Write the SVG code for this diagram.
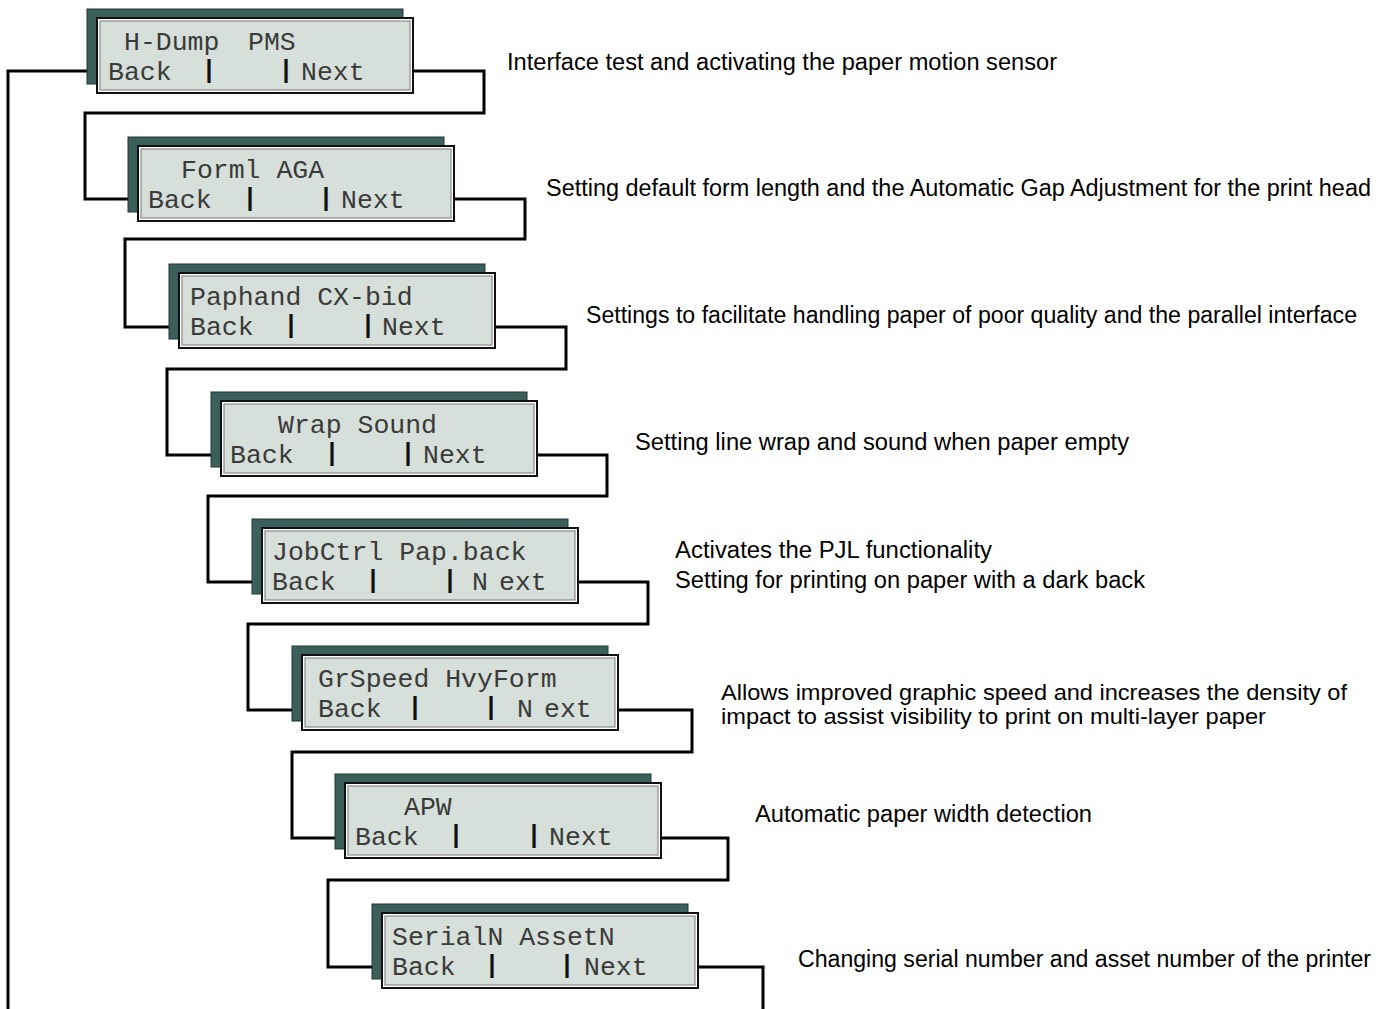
<svg xmlns="http://www.w3.org/2000/svg" width="1392" height="1009" viewBox="0 0 1392 1009">
<style>
.sh{fill:#3b605c;stroke:#203634;stroke-width:1}
.fo{fill:#ffffff;stroke:#111;stroke-width:2}
.fi{fill:#d6dfd9;stroke:#8a8a8a;stroke-width:1.2}
.lcd{font-family:"Liberation Mono","Courier New",monospace;font-size:26.5px;fill:#3a3a3a}
.bar{font-family:"Liberation Mono",monospace;font-size:25px;font-weight:bold;fill:#111;text-anchor:middle}
.d{font-family:"Liberation Sans",Arial,sans-serif;font-size:23.5px;fill:#000}
.d6{font-family:"Liberation Sans",Arial,sans-serif;font-size:22px;fill:#000}
.c{fill:none;stroke:#000;stroke-width:3;stroke-linejoin:miter}
</style>
<rect width="1392" height="1009" fill="#fff"/>
<g id="connectors">
<path class="c" d="M87 71 H8 V1009"/>
<path class="c" d="M413 71 H484 V113 H85 V199 H128"/>
<path class="c" d="M454 199 H525 V239 H125 V327 H169"/>
<path class="c" d="M495 327 H566 V369 H167 V455 H211"/>
<path class="c" d="M537 455 H607 V496 H208 V582 H252"/>
<path class="c" d="M578 582 H648 V624 H248 V710 H292"/>
<path class="c" d="M618 710 H692 V752 H292 V838 H335"/>
<path class="c" d="M661 838 H728 V880 H328 V967 H372"/>
<path class="c" d="M698 967 H763 V1009"/>
</g>
<g id="n1">
<rect class="sh" x="87" y="9" width="316" height="75"/>
<rect class="fo" x="97" y="18" width="316" height="75"/>
<rect class="fi" x="100" y="21" width="310" height="69"/>
<text class="lcd" y="50"><tspan x="124">H-Dump</tspan><tspan x="248">PMS</tspan></text>
<text class="lcd" x="108" y="80">Back</text>
<text class="bar" x="209" y="78">|</text><text class="bar" x="286" y="78">|</text>
<text class="lcd" x="301" y="80">Next</text>
</g>
<g id="n2">
<rect class="sh" x="128" y="137" width="316" height="75"/>
<rect class="fo" x="138" y="146" width="316" height="75"/>
<rect class="fi" x="141" y="149" width="310" height="69"/>
<text class="lcd" x="181" y="178">Forml AGA</text>
<text class="lcd" x="148" y="208">Back</text>
<text class="bar" x="250" y="206">|</text><text class="bar" x="326" y="206">|</text>
<text class="lcd" x="341" y="208">Next</text>
</g>
<g id="n3">
<rect class="sh" x="169" y="264" width="316" height="75"/>
<rect class="fo" x="179" y="273" width="316" height="75"/>
<rect class="fi" x="182" y="276" width="310" height="69"/>
<text class="lcd" x="190" y="305">Paphand CX-bid</text>
<text class="lcd" x="190" y="335">Back</text>
<text class="bar" x="291" y="333">|</text><text class="bar" x="368" y="333">|</text>
<text class="lcd" x="382" y="335">Next</text>
</g>
<g id="n4">
<rect class="sh" x="211" y="392" width="316" height="75"/>
<rect class="fo" x="221" y="401" width="316" height="75"/>
<rect class="fi" x="224" y="404" width="310" height="69"/>
<text class="lcd" x="278" y="433">Wrap Sound</text>
<text class="lcd" x="230" y="463">Back</text>
<text class="bar" x="332" y="461">|</text><text class="bar" x="408" y="461">|</text>
<text class="lcd" x="423" y="463">Next</text>
</g>
<g id="n5">
<rect class="sh" x="252" y="519" width="316" height="75"/>
<rect class="fo" x="262" y="528" width="316" height="75"/>
<rect class="fi" x="265" y="531" width="310" height="69"/>
<text class="lcd" x="272" y="560">JobCtrl Pap.back</text>
<text class="lcd" x="272" y="590">Back</text>
<text class="bar" x="373" y="588">|</text><text class="bar" x="450" y="588">|</text>
<text class="lcd" y="590"><tspan x="472">N</tspan><tspan x="499">ext</tspan></text>
</g>
<g id="n6">
<rect class="sh" x="292" y="646" width="316" height="75"/>
<rect class="fo" x="302" y="655" width="316" height="75"/>
<rect class="fi" x="305" y="658" width="310" height="69"/>
<text class="lcd" x="318" y="687">GrSpeed HvyForm</text>
<text class="lcd" x="318" y="717">Back</text>
<text class="bar" x="415" y="715">|</text><text class="bar" x="491" y="715">|</text>
<text class="lcd" y="717"><tspan x="517">N</tspan><tspan x="544">ext</tspan></text>
</g>
<g id="n7">
<rect class="sh" x="335" y="774" width="316" height="75"/>
<rect class="fo" x="345" y="783" width="316" height="75"/>
<rect class="fi" x="348" y="786" width="310" height="69"/>
<text class="lcd" x="404" y="815">APW</text>
<text class="lcd" x="355" y="845">Back</text>
<text class="bar" x="456" y="843">|</text><text class="bar" x="534" y="843">|</text>
<text class="lcd" x="549" y="845">Next</text>
</g>
<g id="n8">
<rect class="sh" x="372" y="904" width="316" height="75"/>
<rect class="fo" x="382" y="913" width="316" height="75"/>
<rect class="fi" x="385" y="916" width="310" height="69"/>
<text class="lcd" x="392" y="945">SerialN AssetN</text>
<text class="lcd" x="392" y="975">Back</text>
<text class="bar" x="492" y="973">|</text><text class="bar" x="567" y="973">|</text>
<text class="lcd" x="584" y="975">Next</text>
</g>
<g id="descriptions">
<text class="d" x="507" y="70" textLength="550" lengthAdjust="spacingAndGlyphs">Interface test and activating the paper motion sensor</text>
<text class="d" x="546" y="196" textLength="825" lengthAdjust="spacingAndGlyphs">Setting default form length and the Automatic Gap Adjustment for the print head</text>
<text class="d" x="586" y="323" textLength="771" lengthAdjust="spacingAndGlyphs">Settings to facilitate handling paper of poor quality and the parallel interface</text>
<text class="d" x="635" y="450" textLength="494" lengthAdjust="spacingAndGlyphs">Setting line wrap and sound when paper empty</text>
<text class="d" x="675" y="558" textLength="317" lengthAdjust="spacingAndGlyphs">Activates the PJL functionality</text>
<text class="d" x="675" y="588" textLength="470" lengthAdjust="spacingAndGlyphs">Setting for printing on paper with a dark back</text>
<text class="d6" x="721" y="700" textLength="626" lengthAdjust="spacingAndGlyphs">Allows improved graphic speed and increases the density of</text>
<text class="d6" x="721" y="724" textLength="545" lengthAdjust="spacingAndGlyphs">impact to assist visibility to print on multi-layer paper</text>
<text class="d" x="755" y="822" textLength="337" lengthAdjust="spacingAndGlyphs">Automatic paper width detection</text>
<text class="d" x="798" y="967" textLength="573" lengthAdjust="spacingAndGlyphs">Changing serial number and asset number of the printer</text>
</g>
</svg>
